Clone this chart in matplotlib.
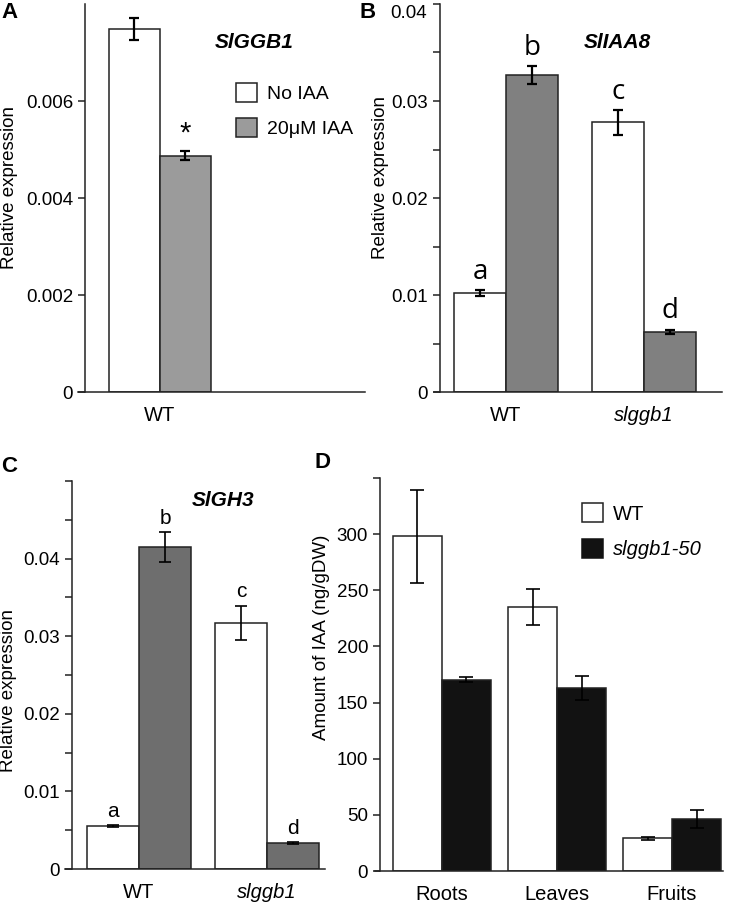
import matplotlib
matplotlib.use("Agg")
import matplotlib.pyplot as plt
from matplotlib.patches import Patch
from matplotlib.ticker import MultipleLocator, FuncFormatter

plt.rcParams['font.family'] = ['Liberation Sans', 'DejaVu Sans']

# ---- data ----
# A: SlGGB1, WT only
a_groups = ['WT']
a_noiaa = [0.00748]
a_noiaa_err = [0.00023]
a_iaa = [0.00487]
a_iaa_err = [0.00009]

# B: SlIAA8
b_groups = ['WT', 'slggb1']
b_noiaa = [0.0102, 0.0278]
b_noiaa_err = [0.0003, 0.0013]
b_iaa = [0.0327, 0.0062]
b_iaa_err = [0.0009, 0.00024]
b_letters_noiaa = ['a', 'c']
b_letters_iaa = ['b', 'd']

# C: SlGH3
c_groups = ['WT', 'slggb1']
c_noiaa = [0.00557, 0.03175]
c_noiaa_err = [0.0001, 0.0022]
c_iaa = [0.04148, 0.00339]
c_iaa_err = [0.0019, 0.00012]
c_letters_noiaa = ['a', 'c']
c_letters_iaa = ['b', 'd']

# D: IAA content
d_tissues = ['Roots', 'Leaves', 'Fruits']
d_wt = [298, 235, 29]
d_wt_err = [41.5, 16, 1]
d_mut = [170.5, 163, 46]
d_mut_err = [2.5, 10.5, 8]

TICK = 13.5
LAB = 13.5
XLAB = 14.5

W, H = 734, 905
fig = plt.figure(figsize=(W / 100, H / 100), dpi=100)


def add_ax(l, r, t, b):
    return fig.add_axes([l / W, 1 - b / H, (r - l) / W, (b - t) / H])


def style_ax(ax, xlim, ylim, ext, tsize=TICK):
    ax.set_xlim(*xlim)
    ax.set_ylim(*ylim)
    for s in ('top', 'right'):
        ax.spines[s].set_visible(False)
    for s in ('left', 'bottom'):
        ax.spines[s].set_linewidth(1.1)
        ax.spines[s].set_color('#222222')
    ax.spines['bottom'].set_bounds(xlim[0] - ext, xlim[1])
    ax.tick_params(axis='y', direction='out', length=5, width=1.1,
                   pad=3.5, labelsize=tsize, color='#222222')
    ax.tick_params(axis='x', length=0, pad=10)


def bars(ax, x, w, vals, errs, color, elw, cap, ecol='black'):
    ax.bar(x, vals, w, color=color, edgecolor='#222222', linewidth=1.1, zorder=2)
    ax.errorbar(x, vals, yerr=errs, fmt='none', ecolor=ecol, elinewidth=elw,
                capsize=cap, capthick=elw, zorder=3)


def letters(ax, x, vals, errs, labs, **kw):
    for xi, v, e, t in zip(x, vals, errs, labs):
        ax.annotate(t, (xi, v + e), xytext=(0, 3), textcoords='offset points',
                    ha='center', va='bottom', **kw)


# ---------------- A ----------------
axA = add_ax(85, 365, 4, 392)
w = 1.0
xa = list(range(len(a_groups)))
bars(axA, [i - w / 2 for i in xa], w, a_noiaa, a_noiaa_err, 'white', 1.6, 3.5)
bars(axA, [i + w / 2 for i in xa], w, a_iaa, a_iaa_err, '#9b9b9b', 1.6, 3.5)
style_ax(axA, (-1.47, 4.02), (0, 0.008), 0.14)
axA.set_yticks([0, 0.002, 0.004, 0.006])
axA.set_yticklabels(['0', '0.002', '0.004', '0.006'])
axA.set_xticks(xa)
axA.set_xticklabels(a_groups, fontsize=XLAB)
axA.set_ylabel('Relative expression', fontsize=LAB)
axA.yaxis.set_label_coords(-0.239, 0.528)
for xi, v, e in zip(xa, a_iaa, a_iaa_err):
    axA.annotate('*', (xi + w / 2, v + e), xytext=(0, 3), textcoords='offset points',
                 ha='center', va='bottom', fontsize=21)
axA.text(0.604, 0.9, 'SlGGB1', transform=axA.transAxes, ha='center', va='center',
         fontsize=15, fontweight='bold', fontstyle='italic')
axA.legend(handles=[Patch(facecolor='white', edgecolor='#222222', linewidth=1.1, label='No IAA'),
                    Patch(facecolor='#9b9b9b', edgecolor='#222222', linewidth=1.1, label='20μM IAA')],
           loc='upper left', bbox_to_anchor=(0.539, 0.796), frameon=False, fontsize=14,
           borderpad=0, borderaxespad=0, handlelength=1.1, handleheight=1.15,
           handletextpad=0.5, labelspacing=0.75)

# ---------------- B ----------------
axB = add_ax(440, 722, 4, 392)
w = 0.377
xb = list(range(len(b_groups)))
bars(axB, [i - w / 2 for i in xb], w, b_noiaa, b_noiaa_err, 'white', 1.6, 3.5)
bars(axB, [i + w / 2 for i in xb], w, b_iaa, b_iaa_err, '#808080', 1.6, 3.5)
style_ax(axB, (-0.478, 1.565), (0, 0.04), 0.045)
axB.yaxis.set_major_locator(MultipleLocator(0.005))
axB.yaxis.set_major_formatter(FuncFormatter(
    lambda v, p: ('%g' % round(v, 4)) if round(v / 0.005) % 2 == 0 and v < 0.039 else ''))
axB.text(-0.045, 0.0399, '0.04', transform=axB.get_yaxis_transform(), ha='right', va='top',
         fontsize=TICK)
axB.set_xticks(xb)
axB.set_xticklabels(b_groups, fontsize=XLAB)
axB.get_xticklabels()[1].set_fontstyle('italic')
axB.set_ylabel('Relative expression', fontsize=LAB)
axB.yaxis.set_label_coords(-0.181, 0.554)
letters(axB, [i - w / 2 for i in xb], b_noiaa, b_noiaa_err, b_letters_noiaa,
        fontsize=20, family=['Open Sans', 'DejaVu Sans'])
letters(axB, [i + w / 2 for i in xb], b_iaa, b_iaa_err, b_letters_iaa,
        fontsize=20, family=['Open Sans', 'DejaVu Sans'])
axB.text(0.628, 0.9, 'SlIAA8', transform=axB.transAxes, ha='center', va='center',
         fontsize=15, fontweight='bold', fontstyle='italic')

# ---------------- C ----------------
axC = add_ax(72, 325, 481, 869)
w = 0.406
xc = list(range(len(c_groups)))
bars(axC, [i - w / 2 for i in xc], w, c_noiaa, c_noiaa_err, 'white', 1.2, 4)
bars(axC, [i + w / 2 for i in xc], w, c_iaa, c_iaa_err, '#6e6e6e', 1.2, 4)
style_ax(axC, (-0.523, 1.453), (0, 0.05), 0.055)
axC.yaxis.set_major_locator(MultipleLocator(0.005))
axC.yaxis.set_major_formatter(FuncFormatter(
    lambda v, p: ('%g' % round(v, 4)) if round(v / 0.005) % 2 == 0 and v < 0.049 else ''))
axC.set_xticks(xc)
axC.set_xticklabels(c_groups, fontsize=XLAB)
axC.get_xticklabels()[1].set_fontstyle('italic')
axC.set_ylabel('Relative expression', fontsize=LAB)
axC.yaxis.set_label_coords(-0.217, 0.461)
letters(axC, [i - w / 2 for i in xc], c_noiaa, c_noiaa_err, c_letters_noiaa, fontsize=15)
letters(axC, [i + w / 2 for i in xc], c_iaa, c_iaa_err, c_letters_iaa, fontsize=15)
axC.text(0.597, 0.951, 'SlGH3', transform=axC.transAxes, ha='center', va='center',
         fontsize=15, fontweight='bold', fontstyle='italic')

# ---------------- D ----------------
axD = add_ax(380, 723, 478, 871)
w = 0.426
xd = list(range(len(d_tissues)))
bars(axD, [i - w / 2 for i in xd], w, d_wt, d_wt_err, 'white', 1.2, 5)
bars(axD, [i + w / 2 for i in xd], w, d_mut, d_mut_err, '#121212', 1.2, 5)
style_ax(axD, (-0.539, 2.443), (0, 350), 0.045, tsize=13.5)
axD.yaxis.set_major_locator(MultipleLocator(50))
axD.yaxis.set_major_formatter(FuncFormatter(lambda v, p: '%d' % v if v < 349 else ''))
axD.set_xticks(xd)
axD.set_xticklabels(d_tissues, fontsize=XLAB)
axD.set_ylabel('Amount of IAA (ng/gDW)', fontsize=LAB)
axD.yaxis.set_label_coords(-0.146, 0.595)
axD.legend(handles=[Patch(facecolor='white', edgecolor='#222222', linewidth=1.1, label='WT'),
                    Patch(facecolor='#121212', edgecolor='#121212', linewidth=1.1, label='slggb1-50')],
           loc='upper left', bbox_to_anchor=(0.589, 0.936), frameon=False, fontsize=14.5,
           borderpad=0, borderaxespad=0, handlelength=1.05, handleheight=1.1,
           handletextpad=0.5, labelspacing=0.75)
axD.get_legend().get_texts()[1].set_fontstyle('italic')

# panel letters
for lab, px, py in [('A', 10, 13), ('B', 368, 12), ('C', 9, 467), ('D', 322, 462)]:
    fig.text(px / W, 1 - py / H, lab, ha='center', va='center', fontsize=16,
             fontweight='bold')

fig.savefig('out.png', dpi=100)
